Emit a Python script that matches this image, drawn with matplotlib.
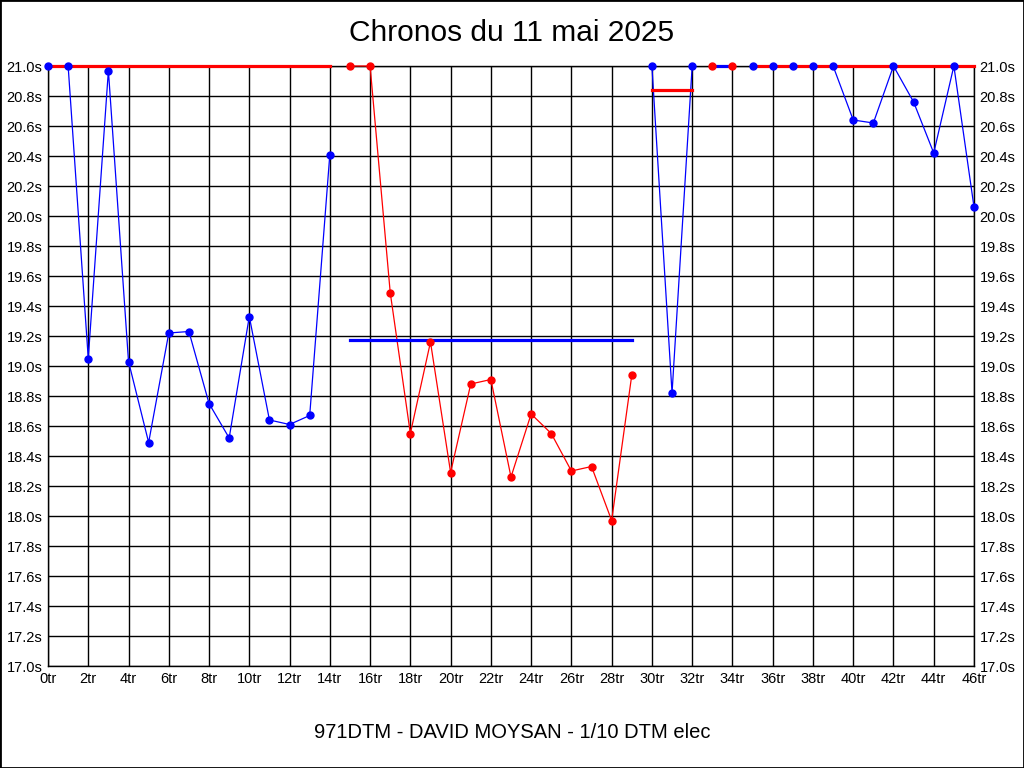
import numpy as np
import matplotlib.pyplot as plt

plt.rcParams['font.family'] = ['Liberation Sans', 'DejaVu Sans']

# lap times per stint (values above 21.0s are shown clipped at 21.0s)
laps_1 = list(range(0, 15))
times_1 = [21.0, 21.0, 19.05, 20.97, 19.03, 18.49, 19.22, 19.23, 18.75, 18.52,
           19.33, 18.64, 18.61, 18.67, 20.41]
avg_1 = 21.0

laps_2 = list(range(15, 30))
times_2 = [21.0, 21.0, 19.49, 18.55, 19.16, 18.29, 18.88, 18.91, 18.26, 18.68,
           18.55, 18.30, 18.33, 17.97, 18.94]
avg_2 = 19.17

laps_3 = [30, 31, 32]
times_3 = [21.0, 18.82, 21.0]
avg_3 = 20.84

laps_4 = [33, 34]
times_4 = [21.0, 21.0]
avg_4 = 21.0

laps_5 = list(range(35, 47))
times_5 = [21.0, 21.0, 21.0, 21.0, 21.0, 20.64, 20.62, 21.0, 20.76, 20.42,
           21.0, 20.06]
avg_5 = 21.0

stints = [(laps_1, times_1, avg_1, 'blue', 'red'),
          (laps_2, times_2, avg_2, 'red', 'blue'),
          (laps_3, times_3, avg_3, 'blue', 'red'),
          (laps_4, times_4, avg_4, 'red', 'blue'),
          (laps_5, times_5, avg_5, 'blue', 'red')]

x_ticks = list(range(0, 47, 2))
y_ticks = np.round(np.arange(17.0, 21.01, 0.2), 1)

fig = plt.figure(figsize=(10.24, 7.68), dpi=100)
ax = fig.add_axes([48/1024, 1 - 666/768, (974 - 48)/1024, 600/768])

for laps, times, avg, col, avg_col in stints:
    # lap line, then stint average, then the dots on top
    ax.plot(laps, times, color=col, lw=0.9, zorder=3, clip_on=False)
    ax.plot([laps[0], laps[-1]], [avg, avg], color=avg_col, lw=2.3, zorder=4, clip_on=False)
    ax.plot(laps, times, 'o', color=col, ms=5, zorder=5, clip_on=False)

ax.set_xlim(0, 46)
ax.set_ylim(17.0, 21.0)
ax.set_xticks(x_ticks)
ax.set_xticklabels(['%dtr' % v for v in x_ticks])
ax.set_yticks(y_ticks)
ax.set_yticklabels(['%.1fs' % v for v in y_ticks])
ax.tick_params(length=0, labelsize=10.5, pad=4, labelright=True)
ax.grid(True, color='black', lw=1)
ax.set_axisbelow(True)
for s in ax.spines.values():
    s.set_color('black')
    s.set_linewidth(1)

fig.text(0.5, 1 - 33/768, 'Chronos du 11 mai 2025', ha='center', va='center', fontsize=21.5)
fig.text(0.5, 1 - 733/768, '971DTM - DAVID MOYSAN - 1/10 DTM elec', ha='center', va='center',
         fontsize=14.5)
fig.add_artist(plt.Rectangle((0, 0), 1, 1, transform=fig.transFigure, fill=False,
                             ec='black', lw=2))

fig.savefig('out.png', dpi=100)
